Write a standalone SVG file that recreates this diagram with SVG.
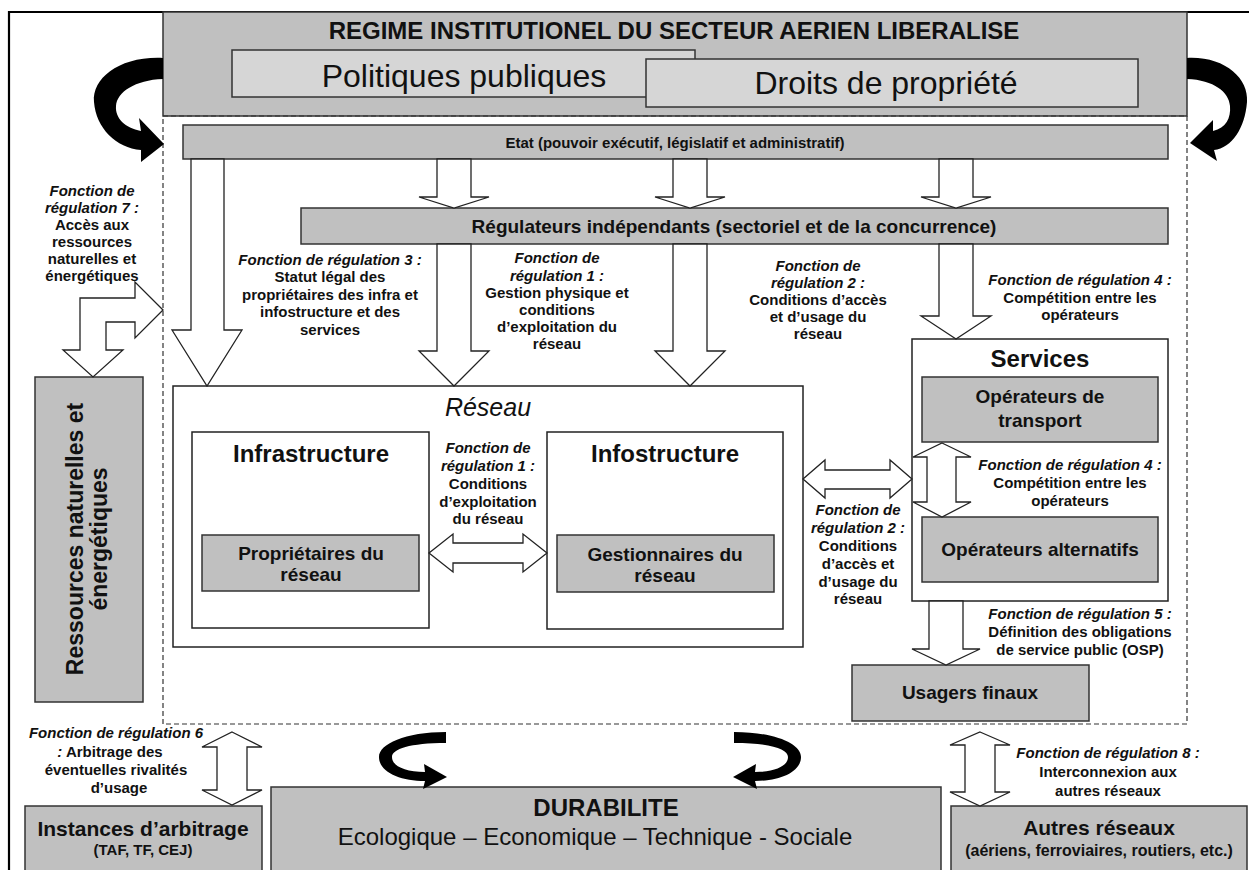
<svg xmlns="http://www.w3.org/2000/svg" width="1249" height="870" viewBox="0 0 1249 870">
<style>
text { font-family: "Liberation Sans", Arial, Helvetica, sans-serif; fill: #111; text-anchor: middle; }
.b { font-weight: bold; }
.fi { font-weight: bold; font-style: italic; }
.s15 { font-size: 15px; }
.g { fill: #c0c0c0; stroke: #333; stroke-width: 1.5; }
.lg { fill: #d6d6d6; stroke: #333; stroke-width: 1.5; }
.w { fill: #fff; stroke: #222; stroke-width: 1.5; }
.ar { fill: #fff; stroke: #222; stroke-width: 1.3; stroke-linejoin: miter; }
.cur { fill: #000; }
.dash { fill: none; stroke: #333; stroke-width: 1.2; stroke-dasharray: 5 3; }
</style>

<!-- outer frame -->
<path d="M9,870 V12 H1249" fill="none" stroke="#000" stroke-width="2.2"/>

<g id="regime">
  <rect class="g" x="163" y="12" width="1024" height="104"/>
  <text class="b" x="674" y="39" font-size="24">REGIME INSTITUTIONEL DU SECTEUR AERIEN LIBERALISE</text>
</g>
<g id="politiques">
  <rect class="lg" x="232" y="50" width="463" height="47"/>
  <text x="464" y="87" font-size="32">Politiques publiques</text>
</g>
<g id="droits">
  <rect class="lg" x="646" y="59" width="492" height="48"/>
  <text x="886" y="94" font-size="32">Droits de propriété</text>
</g>

<rect id="perimetre" class="dash" x="163" y="116" width="1024" height="608"/>

<g id="etat">
  <rect class="g" x="183" y="125" width="985" height="34"/>
  <text class="b" x="675" y="148" font-size="15">Etat (pouvoir exécutif, législatif et administratif)</text>
</g>
<g id="regulateurs">
  <rect class="g" x="301" y="208" width="867" height="36"/>
  <text class="b" x="734" y="233" font-size="19">Régulateurs indépendants (sectoriel et de la concurrence)</text>
</g>

<g id="reseau">
  <rect class="w" x="173" y="386" width="630" height="261"/>
  <text x="488" y="416" font-size="25" font-style="italic">Réseau</text>
</g>
<g id="infrastructure">
  <rect class="w" x="192" y="432" width="237" height="196"/>
  <text class="b" x="311" y="462" font-size="24">Infrastructure</text>
</g>
<g id="proprietaires">
  <rect class="g" x="202" y="535" width="217" height="56"/>
  <text class="b" x="311" y="560" font-size="19">Propriétaires du</text>
  <text class="b" x="311" y="581" font-size="19">réseau</text>
</g>
<g id="infostructure">
  <rect class="w" x="547" y="432" width="236" height="197"/>
  <text class="b" x="665" y="462" font-size="24">Infostructure</text>
</g>
<g id="gestionnaires">
  <rect class="g" x="557" y="535" width="217" height="57"/>
  <text class="b" x="665" y="561" font-size="19">Gestionnaires du</text>
  <text class="b" x="665" y="582" font-size="19">réseau</text>
</g>

<g id="services">
  <rect class="w" x="912" y="339" width="256" height="262"/>
  <text class="b" x="1040" y="367" font-size="24">Services</text>
</g>
<g id="operateurs-transport">
  <rect class="g" x="922" y="377" width="236" height="65"/>
  <text class="b" x="1040" y="403" font-size="19">Opérateurs de</text>
  <text class="b" x="1040" y="427" font-size="19">transport</text>
</g>
<g id="operateurs-alternatifs">
  <rect class="g" x="922" y="517" width="236" height="65"/>
  <text class="b" x="1040" y="556" font-size="19">Opérateurs alternatifs</text>
</g>
<g id="usagers">
  <rect class="g" x="852" y="665" width="237" height="56"/>
  <text class="b" x="970" y="699" font-size="19">Usagers finaux</text>
</g>

<g id="ressources">
  <rect class="g" x="35" y="377" width="108" height="325"/>
  <g transform="translate(89,539) rotate(-90)">
    <text class="b" x="0" y="-6" font-size="23">Ressources naturelles et</text>
    <text class="b" x="0" y="18" font-size="23">énergétiques</text>
  </g>
</g>

<g id="instances">
  <rect class="g" x="25" y="806" width="237" height="70"/>
  <text class="b" x="143" y="836" font-size="21">Instances d’arbitrage</text>
  <text class="b" x="143" y="855" font-size="15">(TAF, TF, CEJ)</text>
</g>
<g id="durabilite">
  <rect class="g" x="271" y="787" width="670" height="90"/>
  <text class="b" x="606" y="816" font-size="24">DURABILITE</text>
  <text x="595" y="845" font-size="24">Ecologique – Economique – Technique - Sociale</text>
</g>
<g id="autres-reseaux">
  <rect class="g" x="951" y="806" width="296" height="70"/>
  <text class="b" x="1099" y="835" font-size="21">Autres réseaux</text>
  <text class="b" x="1099" y="856" font-size="16">(aériens, ferroviaires, routiers, etc.)</text>
</g>

<g id="connectors">
  <!-- curved arrows -->
  <path class="cur" d="M163,58 C120,56 92,78 94,102 C96,128 116,148 141,150 L141,162 L164,144 L139,118 L141,131 C125,128 115,118 116,106 C117,92 135,80 163,79 Z"/>
  <path class="cur" d="M1187,58 C1224,56 1249,78 1247,102 C1245,128 1232,148 1214,150 L1217,161 L1190,143 L1213,120 L1213,131 C1226,128 1231,118 1230,106 C1229,92 1214,80 1187,79 Z"/>
  <path class="cur" d="M446,732 C405,732 379,744 379,757 C379,772 400,781 425,781 L423,789 L447,777 L424,764 L425,772 C405,772 392,766 392,757 C392,749 410,743 446,743 Z"/>
  <path class="cur" transform="translate(1180,0) scale(-1,1)" d="M446,732 C405,732 379,744 379,757 C379,772 400,781 425,781 L423,789 L447,777 L424,764 L425,772 C405,772 392,766 392,757 C392,749 410,743 446,743 Z"/>

  <!-- block arrows -->
  <polygon class="ar" points="191,159 224,159 224,330 242,330 207,386 172,330 191,330"/>
  <polygon class="ar" points="437,159 471,159 471,197 489,197 454,208 419,197 437,197"/>
  <polygon class="ar" points="673,159 707,159 707,197 725,197 690,208 655,197 673,197"/>
  <polygon class="ar" points="939,159 973,159 973,197 991,197 956,208 921,197 939,197"/>
  <polygon class="ar" points="437,244 471,244 471,351 489,351 454,386 419,351 437,351"/>
  <polygon class="ar" points="673,244 707,244 707,351 725,351 690,386 655,351 673,351"/>
  <polygon class="ar" points="939,244 973,244 973,316 991,316 956,339 921,316 939,316"/>
  <polygon class="ar" points="929,601 963,601 963,649 980,649 946,665 912,649 929,649"/>
  <polygon class="ar" points="429,553 453,534 453,543 523,543 523,534 547,553 523,572 523,563 453,563 453,572"/>
  <polygon class="ar" points="803,479 825,460 825,470 890,470 890,460 912,479 890,498 890,489 825,489 825,498"/>
  <polygon class="ar" points="942,443 971,457 956,457 956,502 971,502 942,517 913,502 927,502 927,457 913,457"/>
  <polygon class="ar" points="232,732 262,747 247,747 247,790 262,790 232,805 202,790 217,790 217,747 202,747"/>
  <polygon class="ar" points="980,732 1010,745 995,745 995,792 1010,792 980,806 950,792 965,792 965,745 950,745"/>
  <polygon class="ar" points="163,310 135,282 135,298 80,298 80,350 63,350 93,377 123,350 106,350 106,322 135,322 135,338"/>

  <!-- labels -->
  <g class="s15">
    <text class="fi" x="92" y="196">Fonction de</text>
    <text class="fi" x="92" y="213">régulation 7 :</text>
    <text class="b" x="92" y="230">Accès aux</text>
    <text class="b" x="92" y="247">ressources</text>
    <text class="b" x="92" y="264">naturelles et</text>
    <text class="b" x="92" y="281">énergétiques</text>

    <text class="fi" x="330" y="265">Fonction de régulation 3 :</text>
    <text class="b" x="330" y="282">Statut légal des</text>
    <text class="b" x="330" y="300">propriétaires des infra et</text>
    <text class="b" x="330" y="317">infostructure et des</text>
    <text class="b" x="330" y="335">services</text>

    <text class="fi" x="557" y="263">Fonction de</text>
    <text class="fi" x="557" y="281">régulation 1 :</text>
    <text class="b" x="557" y="298">Gestion physique et</text>
    <text class="b" x="557" y="315">conditions</text>
    <text class="b" x="557" y="332">d’exploitation du</text>
    <text class="b" x="557" y="349">réseau</text>

    <text class="fi" x="818" y="271">Fonction de</text>
    <text class="fi" x="818" y="288">régulation 2 :</text>
    <text class="b" x="818" y="305">Conditions d’accès</text>
    <text class="b" x="818" y="322">et d’usage du</text>
    <text class="b" x="818" y="339">réseau</text>

    <text class="fi" x="1080" y="285">Fonction de régulation 4 :</text>
    <text class="b" x="1080" y="303">Compétition entre les</text>
    <text class="b" x="1080" y="320">opérateurs</text>

    <text class="fi" x="488" y="453">Fonction de</text>
    <text class="fi" x="488" y="471">régulation 1 :</text>
    <text class="b" x="488" y="489">Conditions</text>
    <text class="b" x="488" y="507">d’exploitation</text>
    <text class="b" x="488" y="524">du réseau</text>

    <text class="fi" x="858" y="515">Fonction de</text>
    <text class="fi" x="858" y="533">régulation 2 :</text>
    <text class="b" x="858" y="551">Conditions</text>
    <text class="b" x="858" y="569">d’accès et</text>
    <text class="b" x="858" y="587">d’usage du</text>
    <text class="b" x="858" y="604">réseau</text>

    <text class="fi" x="1070" y="470">Fonction de régulation 4 :</text>
    <text class="b" x="1070" y="488">Compétition entre les</text>
    <text class="b" x="1070" y="506">opérateurs</text>

    <text class="fi" x="1080" y="619">Fonction de régulation 5 :</text>
    <text class="b" x="1080" y="637">Définition des obligations</text>
    <text class="b" x="1080" y="655">de service public (OSP)</text>

    <text class="fi" x="116" y="738">Fonction de régulation 6</text>
    <text class="b" x="110" y="757"><tspan font-style="italic">:</tspan> Arbitrage des</text>
    <text class="b" x="116" y="775">éventuelles rivalités</text>
    <text class="b" x="119" y="793">d’usage</text>

    <text class="fi" x="1108" y="758">Fonction de régulation 8 :</text>
    <text class="b" x="1108" y="777">Interconnexion aux</text>
    <text class="b" x="1108" y="796">autres réseaux</text>
  </g>
</g>
</svg>
